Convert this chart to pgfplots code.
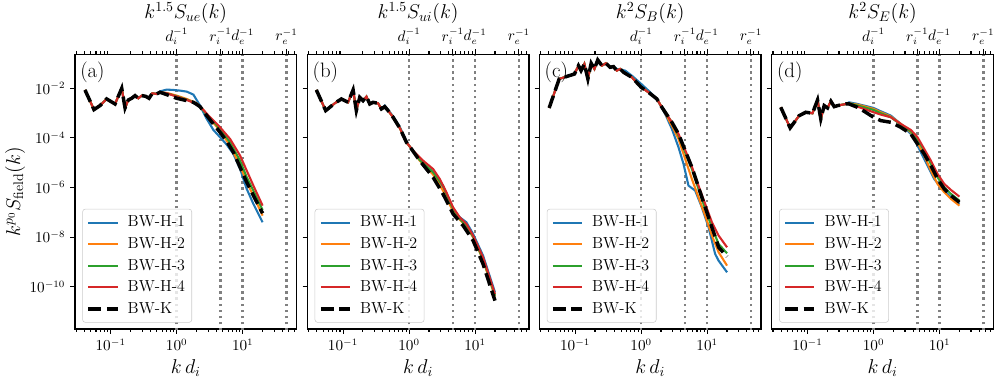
\documentclass[border=0pt]{standalone}
\usepackage{pgfplots}
\pgfplotsset{compat=1.18}
\definecolor{c0}{HTML}{1F77B4}
\definecolor{c1}{HTML}{FF7F0E}
\definecolor{c2}{HTML}{2CA02C}
\definecolor{c3}{HTML}{D62728}
\definecolor{lgray}{HTML}{CCCCCC}
\definecolor{vgray}{HTML}{808080}
\tikzset{
  sA/.style={c0, line width=1.5pt},
  sB/.style={c1, line width=1.5pt},
  sC/.style={c2, line width=1.5pt},
  sD/.style={c3, line width=1.5pt},
  sK/.style={black, line width=2.5pt, dash pattern=on 9.25pt off 4pt},
  vl/.style={vgray, line width=1.8pt, dash pattern=on 1.8pt off 2.6pt},
}
\pgfplotsset{every axis/.append style={
    scale only axis, width=159.5pt, height=197.8pt, anchor=south west,
    xmode=log, ymode=log, xmin=0.0288, xmax=65.3, ymin=1.97e-12, ymax=0.235,
    axis line style={line width=0.9pt},
    tick align=outside,
    major tick length=3.5pt, minor tick length=2pt,
    every tick/.style={black, line width=0.8pt},
    minor xtick={0.03,0.04,0.05,0.06,0.07,0.08,0.09,0.2,0.3,0.4,0.5,0.6,0.7,0.8,0.9,2,3,4,5,6,7,8,9,20,30,40,50,60},
    yminorticks=false,
    ticklabel style={font=\fontsize{10.5}{12}\selectfont},
    legend style={at={(0.033,0.023)}, anchor=south west, draw=lgray, rounded corners=2pt,
      fill=white, fill opacity=0.8, text opacity=1, draw opacity=1,
      font=\fontsize{11.5}{13}\selectfont, row sep=2.2pt, inner sep=3pt, cells={anchor=west}},
}}
\newcommand{\vlines}{%
  \addplot[vl, forget plot] coordinates {(1,1e-13) (1,1)};
  \addplot[vl, forget plot] coordinates {(4.6,1e-13) (4.6,1)};
  \addplot[vl, forget plot] coordinates {(10,1e-13) (10,1)};
  \addplot[vl, forget plot] coordinates {(46,1e-13) (46,1)};
}
\newcommand{\leg}{\legend{BW-H-1,BW-H-2,BW-H-3,BW-H-4,BW-K}}
\newcommand{\plab}[1]{\node[anchor=north west, inner sep=0pt, font=\fontsize{15}{17}\selectfont] at (rel axis cs:0.0225,0.975) {#1};}
\begin{document}
\begin{tikzpicture}
\path[use as bounding box] (0,0) rectangle (717.12pt,272.88pt);
% ---------------- (a)
\begin{axis}[at={(54pt,36pt)},
    xtick={0.1,1,10}, xtick pos=left, ytick pos=left,
    ytick={1e-10,1e-8,1e-6,1e-4,1e-2},
    xlabel={$k\,d_i$},
    xlabel style={font=\fontsize{14}{16}\selectfont},
    legend image code/.code={\draw[#1] (0pt,0pt) -- (21pt,0pt); \path (25pt,0pt);},
    ylabel={$k^{p_0}S_{\mathrm{field}}(k)$}, ylabel shift=-3.6pt,
    ylabel style={font=\fontsize{14}{16}\selectfont}]
\vlines
\addplot[sA] coordinates {(0.0408,8.57e-3) (0.0558,1.38e-3) (0.0689,2.00e-3) (0.0869,3.72e-3) (0.1164,2.33e-3) (0.147,1.0e-2) (0.165,1.61e-3) (0.185,3.39e-3) (0.208,3.95e-3) (0.234,5.06e-3) (0.262,3.95e-3) (0.295,5.06e-3) (0.339,4.75e-3) (0.381,3.95e-3) (0.428,6.28e-3) (0.498,5.91e-3) (0.559,7.5e-3) (0.705,8.84e-3) (0.889,8.57e-3) (1.124,8.05e-3) (1.418,7.34e-3) (1.79,5.56e-3) (2.26,2.00e-3) (2.85,5.80e-4) (3.59,2.09e-4) (4.54,1.06e-4) (5.72,5.35e-5) (7.22,2.25e-5) (9.12,5.58e-6) (11.5,8.73e-7) (14.5,2.17e-7) (20,3.95e-8)};
\addplot[sB] coordinates {(0.0408,8.57e-3) (0.0558,1.38e-3) (0.0689,2.00e-3) (0.0869,3.72e-3) (0.1164,2.33e-3) (0.147,1.0e-2) (0.165,1.61e-3) (0.185,3.39e-3) (0.208,3.95e-3) (0.234,5.06e-3) (0.262,3.95e-3) (0.295,5.06e-3) (0.339,4.75e-3) (0.381,3.95e-3) (0.428,6.28e-3) (0.498,5.91e-3) (0.559,6.90e-3) (0.705,6.49e-3) (1.0,5.06e-3) (1.418,3.72e-3) (2.01,2.48e-3) (2.535,1.34e-3) (3.20,5.80e-4) (4.54,1.96e-4) (6.43,4.88e-5) (9.12,7.62e-6) (11.5,1.62e-6) (14.5,4.70e-7) (20,7.35e-8)};
\addplot[sC] coordinates {(0.0408,8.57e-3) (0.0558,1.38e-3) (0.0689,2.00e-3) (0.0869,3.72e-3) (0.1164,2.33e-3) (0.147,1.0e-2) (0.165,1.61e-3) (0.185,3.39e-3) (0.208,3.95e-3) (0.234,5.06e-3) (0.262,3.95e-3) (0.295,5.06e-3) (0.339,4.75e-3) (0.381,3.95e-3) (0.428,6.28e-3) (0.498,5.91e-3) (0.559,6.90e-3) (0.705,6.28e-3) (1.0,4.75e-3) (1.418,3.49e-3) (2.01,2.33e-3) (2.535,1.26e-3) (3.20,6.37e-4) (4.54,2.29e-4) (6.43,6.65e-5) (9.12,1.21e-5) (11.5,2.58e-6) (14.5,7.48e-7) (20,1.24e-7)};
\addplot[sD] coordinates {(0.0408,8.57e-3) (0.0558,1.38e-3) (0.0689,2.00e-3) (0.0869,3.72e-3) (0.1164,2.33e-3) (0.147,1.0e-2) (0.165,1.61e-3) (0.185,3.39e-3) (0.208,3.95e-3) (0.234,5.06e-3) (0.262,3.95e-3) (0.295,5.06e-3) (0.339,4.75e-3) (0.381,3.95e-3) (0.428,6.28e-3) (0.498,5.91e-3) (0.559,6.90e-3) (0.705,6.28e-3) (1.0,4.61e-3) (1.418,3.39e-3) (2.01,2.33e-3) (2.535,1.34e-3) (3.20,6.78e-4) (4.54,2.67e-4) (6.43,9.06e-5) (9.12,1.93e-5) (11.5,4.79e-6) (14.5,1.19e-6) (20,1.86e-7)};
\addplot[sK] coordinates {(0.0408,8.57e-3) (0.0558,1.38e-3) (0.0689,2.00e-3) (0.0869,3.72e-3) (0.1164,2.33e-3) (0.147,1.0e-2) (0.165,1.61e-3) (0.185,3.39e-3) (0.208,3.95e-3) (0.234,5.06e-3) (0.262,3.95e-3) (0.295,5.06e-3) (0.339,4.75e-3) (0.381,3.95e-3) (0.428,6.28e-3) (0.498,5.91e-3) (0.559,6.90e-3) (0.705,5.56e-3) (1.0,3.95e-3) (1.418,3.18e-3) (1.79,2.72e-3) (2.26,1.82e-3) (2.85,7.91e-4) (3.59,3.65e-4) (4.54,1.68e-4) (5.72,7.30e-5) (7.22,2.63e-5) (9.12,6.53e-6) (11.5,1.62e-6) (14.5,4.70e-7) (20,9.12e-8)};
\leg
\plab{(a)}
\end{axis}
\begin{axis}[at={(54pt,36pt)}, axis x line*=top, axis y line=none,
    xtick={1,4.6,10,46}, xticklabels={$d_i^{-1}$,$r_i^{-1}$,$d_e^{-1}$,$r_e^{-1}$},
    title={$k^{1.5}S_{ue}(k)$},
    title style={font=\fontsize{14}{16}\selectfont, at={(0.5,1)}, anchor=base, yshift=19.5pt}]
\end{axis}
% ---------------- (b)
\begin{axis}[at={(221.3pt,36pt)},
    xtick={0.1,1,10}, xtick pos=left, ytick pos=left,
    ytick={1e-10,1e-8,1e-6,1e-4,1e-2}, yticklabels={},
    xlabel={$k\,d_i$},
    xlabel style={font=\fontsize{14}{16}\selectfont},
    legend image code/.code={\draw[#1] (0pt,0pt) -- (21pt,0pt); \path (25pt,0pt);}]
\vlines
\addplot[sA] coordinates {(0.0394,8.57e-3) (0.0546,1.26e-3) (0.0748,2.48e-3) (0.0944,3.72e-3) (0.119,2.72e-3) (0.142,8.57e-3) (0.159,1.26e-3) (0.179,4.33e-3) (0.201,3.18e-3) (0.226,4.61e-3) (0.254,2.33e-3) (0.285,2.72e-3) (0.339,2.48e-3) (0.381,1.47e-3) (0.428,2.0e-3) (0.481,1.35e-3) (0.573,7.4e-4) (0.722,2.8e-4) (0.912,7.2e-5) (1.0,4.88e-5) (1.45,1.29e-5) (2.31,4.10e-6) (3.27,1.02e-6) (4.38,1.59e-7) (5.86,6.28e-8) (7.39,3.95e-8) (9.33,1.34e-8) (13.2,1.79e-9) (20,5.94e-11)};
\addplot[sB] coordinates {(0.0394,8.57e-3) (0.0546,1.26e-3) (0.0748,2.48e-3) (0.0944,3.72e-3) (0.119,2.72e-3) (0.142,8.57e-3) (0.159,1.26e-3) (0.179,4.33e-3) (0.201,3.18e-3) (0.226,4.61e-3) (0.254,2.33e-3) (0.285,2.72e-3) (0.339,2.48e-3) (0.381,1.47e-3) (0.428,1.82e-3) (0.481,1.26e-3) (0.573,6.78e-4) (0.722,2.52e-4) (0.912,6.65e-5) (1.0,4.88e-5) (1.45,1.21e-5) (2.31,3.30e-6) (3.27,7.48e-7) (4.38,1.50e-7) (5.86,5.06e-8) (7.39,2.64e-8) (9.33,9.82e-9) (13.2,1.20e-9) (20,3.98e-11)};
\addplot[sC] coordinates {(0.0394,8.57e-3) (0.0546,1.26e-3) (0.0748,2.48e-3) (0.0944,3.72e-3) (0.119,2.72e-3) (0.142,8.57e-3) (0.159,1.26e-3) (0.179,4.33e-3) (0.201,3.18e-3) (0.226,4.61e-3) (0.254,2.33e-3) (0.285,2.72e-3) (0.339,2.48e-3) (0.381,1.47e-3) (0.428,1.82e-3) (0.481,1.26e-3) (0.573,6.78e-4) (0.722,2.52e-4) (0.912,6.65e-5) (1.0,4.88e-5) (1.45,1.29e-5) (2.31,4.10e-6) (3.27,1.19e-6) (4.38,1.86e-7) (5.86,5.38e-8) (7.39,2.90e-8) (9.33,1.04e-8) (13.2,1.31e-9) (20,4.36e-11)};
\addplot[sD] coordinates {(0.0394,8.57e-3) (0.0546,1.26e-3) (0.0748,2.48e-3) (0.0944,3.72e-3) (0.119,2.72e-3) (0.142,8.57e-3) (0.159,1.26e-3) (0.179,4.33e-3) (0.201,3.18e-3) (0.226,4.61e-3) (0.254,2.33e-3) (0.285,2.72e-3) (0.339,2.48e-3) (0.381,1.47e-3) (0.428,1.82e-3) (0.481,1.26e-3) (0.573,6.78e-4) (0.722,2.52e-4) (0.912,6.65e-5) (1.0,4.88e-5) (1.15,3.07e-5) (1.63,1.21e-5) (2.31,5.58e-6) (2.92,2.21e-6) (3.68,6.40e-7) (4.64,1.59e-7) (5.86,6.28e-8) (7.39,3.39e-8) (9.33,1.15e-8) (13.2,1.53e-9) (20,5.09e-11)};
\addplot[sK] coordinates {(0.0394,8.57e-3) (0.0546,1.26e-3) (0.0748,2.48e-3) (0.0944,3.72e-3) (0.119,2.72e-3) (0.142,8.57e-3) (0.159,1.26e-3) (0.179,4.33e-3) (0.201,3.18e-3) (0.226,4.61e-3) (0.254,2.33e-3) (0.285,2.72e-3) (0.339,2.48e-3) (0.381,1.47e-3) (0.428,1.82e-3) (0.481,1.26e-3) (0.573,6.78e-4) (0.722,2.52e-4) (0.912,6.65e-5) (1.0,4.88e-5) (1.45,1.21e-5) (2.31,2.58e-6) (3.27,5.48e-7) (4.64,8.57e-8) (6.58,2.90e-8) (9.33,7.21e-9) (13.2,8.26e-10) (20,2.74e-11)};
\leg
\plab{(b)}
\end{axis}
\begin{axis}[at={(221.3pt,36pt)}, axis x line*=top, axis y line=none,
    xtick={1,4.6,10,46}, xticklabels={$d_i^{-1}$,$r_i^{-1}$,$d_e^{-1}$,$r_e^{-1}$},
    title={$k^{1.5}S_{ui}(k)$},
    title style={font=\fontsize{14}{16}\selectfont, at={(0.5,1)}, anchor=base, yshift=19.5pt}]
\end{axis}
% ---------------- (c)
\begin{axis}[at={(388.4pt,36pt)},
    xtick={0.1,1,10}, xtick pos=left, ytick pos=left,
    ytick={1e-10,1e-8,1e-6,1e-4,1e-2}, yticklabels={},
    xlabel={$k\,d_i$},
    xlabel style={font=\fontsize{14}{16}\selectfont},
    legend image code/.code={\draw[#1] (0pt,0pt) -- (21pt,0pt); \path (25pt,0pt);}]
\vlines
\addplot[sA] coordinates {(0.0404,1.61e-3) (0.0573,2.38e-2) (0.0977,3.78e-2) (0.1124,8.20e-2) (0.123,5.15e-2) (0.138,9.57e-2) (0.156,2.38e-2) (0.175,0.102) (0.196,6.03e-2) (0.220,0.139) (0.254,8.20e-2) (0.292,0.102) (0.339,7.03e-2) (0.381,7.48e-2) (0.428,6.03e-2) (0.573,5.15e-2) (0.722,3.24e-2) (1.0,1.50e-2) (1.29,8.05e-3) (1.73,3.72e-3) (2.31,9.23e-4) (2.92,2.29e-4) (3.68,4.18e-5) (4.38,8.89e-6) (5.21,1.19e-6) (6.58,7.48e-7) (8.30,1.59e-7) (10.5,2.48e-8) (13.2,2.09e-9) (14.9,1.12e-9) (20,3.81e-10)};
\addplot[sB] coordinates {(0.0404,1.61e-3) (0.0573,2.38e-2) (0.0977,3.78e-2) (0.1124,8.20e-2) (0.123,5.15e-2) (0.138,9.57e-2) (0.156,2.38e-2) (0.175,0.102) (0.196,6.03e-2) (0.220,0.139) (0.254,8.20e-2) (0.292,0.102) (0.339,7.03e-2) (0.381,7.48e-2) (0.428,5.15e-2) (0.481,6.03e-2) (0.540,4.42e-2) (0.722,2.78e-2) (1.0,1.10e-2) (1.29,6.90e-3) (1.73,3.72e-3) (2.06,1.71e-3) (2.31,9.82e-4) (2.92,3.13e-4) (3.68,9.06e-5) (4.64,1.42e-5) (5.86,2.21e-6) (7.39,4.03e-7) (9.33,7.35e-8) (11.8,1.15e-8) (14.9,2.44e-9) (20,7.06e-10)};
\addplot[sC] coordinates {(0.0404,1.61e-3) (0.0573,2.38e-2) (0.0977,3.78e-2) (0.1124,8.20e-2) (0.123,5.15e-2) (0.138,9.57e-2) (0.156,2.38e-2) (0.175,0.102) (0.196,6.03e-2) (0.220,0.139) (0.254,8.20e-2) (0.292,0.102) (0.339,7.03e-2) (0.381,7.48e-2) (0.428,5.15e-2) (0.481,6.03e-2) (0.540,4.42e-2) (0.722,2.78e-2) (1.0,1.10e-2) (1.29,6.90e-3) (1.73,3.72e-3) (2.06,1.71e-3) (2.31,1.08e-3) (2.92,4.26e-4) (3.68,1.23e-4) (4.64,2.63e-5) (5.86,5.58e-6) (7.39,8.73e-7) (9.33,1.36e-7) (11.8,2.48e-8) (14.9,5.28e-9) (20,2.22e-9)};
\addplot[sD] coordinates {(0.0404,1.61e-3) (0.0573,2.38e-2) (0.0977,3.78e-2) (0.1124,8.20e-2) (0.123,5.15e-2) (0.138,9.57e-2) (0.156,2.38e-2) (0.175,0.102) (0.196,6.03e-2) (0.220,0.139) (0.254,8.20e-2) (0.292,0.102) (0.339,7.03e-2) (0.381,7.48e-2) (0.428,5.15e-2) (0.481,6.03e-2) (0.540,4.42e-2) (0.722,2.78e-2) (1.0,1.10e-2) (1.29,6.90e-3) (1.73,3.72e-3) (2.06,1.71e-3) (2.31,1.08e-3) (2.92,4.26e-4) (3.68,1.44e-4) (4.64,3.26e-5) (5.86,6.94e-6) (7.39,1.19e-6) (9.33,2.17e-7) (11.8,3.95e-8) (14.9,1.15e-8) (20,3.88e-9)};
\addplot[sK] coordinates {(0.0404,1.61e-3) (0.0573,2.38e-2) (0.0977,3.78e-2) (0.1124,8.20e-2) (0.123,5.15e-2) (0.138,9.57e-2) (0.156,2.38e-2) (0.175,0.102) (0.196,6.03e-2) (0.220,0.139) (0.254,8.20e-2) (0.292,0.102) (0.339,7.03e-2) (0.381,7.48e-2) (0.428,5.15e-2) (0.481,6.03e-2) (0.540,4.42e-2) (0.722,2.78e-2) (1.0,1.10e-2) (1.29,6.90e-3) (1.73,3.72e-3) (2.06,1.71e-3) (2.31,1.08e-3) (2.92,4.26e-4) (3.68,1.44e-4) (4.64,3.07e-5) (5.86,6.53e-6) (7.39,1.02e-6) (9.33,1.59e-7) (11.8,2.48e-8) (14.9,3.88e-9) (20,1.63e-9)};
\leg
\plab{(c)}
\end{axis}
\begin{axis}[at={(388.4pt,36pt)}, axis x line*=top, axis y line=none,
    xtick={1,4.6,10,46}, xticklabels={$d_i^{-1}$,$r_i^{-1}$,$d_e^{-1}$,$r_e^{-1}$},
    title={$k^{2}S_{B}(k)$},
    title style={font=\fontsize{14}{16}\selectfont, at={(0.5,1)}, anchor=base, yshift=19.5pt}]
\end{axis}
% ---------------- (d)
\begin{axis}[at={(555.7pt,36pt)},
    xtick={0.1,1,10}, xtick pos=left, ytick pos=left,
    ytick={1e-10,1e-8,1e-6,1e-4,1e-2}, yticklabels={},
    xlabel={$k\,d_i$},
    xlabel style={font=\fontsize{14}{16}\selectfont},
    legend image code/.code={\draw[#1] (0pt,0pt) -- (21pt,0pt); \path (25pt,0pt);}]
\vlines
\addplot[sA] coordinates {(0.0394,1.71e-3) (0.0546,2.52e-4) (0.0748,7.91e-4) (0.0944,1.08e-3) (0.119,9.82e-4) (0.142,3.39e-3) (0.159,5.80e-4) (0.179,2.00e-3) (0.201,1.61e-3) (0.226,2.99e-3) (0.254,1.82e-3) (0.285,2.00e-3) (0.339,2.19e-3) (0.381,2.33e-3) (0.428,2.72e-3) (0.573,2.33e-3) (0.722,2.00e-3) (1.0,1.61e-3) (1.29,1.18e-3) (1.83,7.91e-4) (2.59,3.65e-4) (3.68,1.44e-4) (4.38,6.65e-5) (5.21,2.63e-5) (6.58,7.62e-6) (8.30,2.21e-6) (10.5,1.02e-6) (14.9,4.03e-7) (20,2.17e-7)};
\addplot[sB] coordinates {(0.0394,1.71e-3) (0.0546,2.52e-4) (0.0748,7.91e-4) (0.0944,1.08e-3) (0.119,9.82e-4) (0.142,3.39e-3) (0.159,5.80e-4) (0.179,2.00e-3) (0.201,1.61e-3) (0.226,2.99e-3) (0.254,1.82e-3) (0.285,2.00e-3) (0.339,2.19e-3) (0.381,2.33e-3) (0.428,2.48e-3) (0.573,2.19e-3) (0.722,1.88e-3) (1.0,1.47e-3) (1.29,1.08e-3) (1.83,7.21e-4) (2.59,3.65e-4) (3.68,1.68e-4) (4.64,6.65e-5) (5.86,1.93e-5) (7.39,4.79e-6) (9.33,1.39e-6) (11.8,6.40e-7) (14.9,3.45e-7) (20,1.86e-7)};
\addplot[sC] coordinates {(0.0394,1.71e-3) (0.0546,2.52e-4) (0.0748,7.91e-4) (0.0944,1.08e-3) (0.119,9.82e-4) (0.142,3.39e-3) (0.159,5.80e-4) (0.179,2.00e-3) (0.201,1.61e-3) (0.226,2.99e-3) (0.254,1.82e-3) (0.285,2.00e-3) (0.339,2.19e-3) (0.381,2.33e-3) (0.428,2.48e-3) (0.722,1.71e-3) (1.0,1.34e-3) (1.29,9.82e-4) (1.83,6.78e-4) (2.59,3.43e-4) (3.68,1.85e-4) (4.64,8.26e-5) (5.86,3.07e-5) (7.39,8.89e-6) (9.33,2.58e-6) (11.8,1.02e-6) (14.9,5.48e-7) (20,2.95e-7)};
\addplot[sD] coordinates {(0.0394,1.71e-3) (0.0546,2.52e-4) (0.0748,7.91e-4) (0.0944,1.08e-3) (0.119,9.82e-4) (0.142,3.39e-3) (0.159,5.80e-4) (0.179,2.00e-3) (0.201,1.61e-3) (0.226,2.99e-3) (0.254,1.82e-3) (0.285,2.00e-3) (0.339,2.19e-3) (0.381,2.33e-3) (0.428,2.33e-3) (0.722,1.47e-3) (1.0,1.08e-3) (1.29,8.67e-4) (1.83,6.78e-4) (2.59,3.65e-4) (3.68,2.09e-4) (4.64,1.06e-4) (5.86,3.58e-5) (7.39,1.21e-5) (9.33,3.52e-6) (11.8,1.39e-6) (14.9,7.94e-7) (20,4.28e-7)};
\addplot[sK] coordinates {(0.0394,1.71e-3) (0.0546,2.52e-4) (0.0748,7.91e-4) (0.0944,1.08e-3) (0.119,9.82e-4) (0.142,3.39e-3) (0.159,5.80e-4) (0.179,2.00e-3) (0.201,1.61e-3) (0.226,2.99e-3) (0.254,1.82e-3) (0.285,2.00e-3) (0.339,2.19e-3) (0.381,2.33e-3) (0.428,2.33e-3) (0.573,1.71e-3) (0.722,1.18e-3) (1.0,6.78e-4) (1.29,4.97e-4) (1.83,4.26e-4) (2.59,2.67e-4) (3.68,1.44e-4) (4.64,5.69e-5) (5.86,2.25e-5) (7.39,7.62e-6) (9.33,2.21e-6) (11.8,8.73e-7) (14.9,4.70e-7) (20,2.53e-7)};
\leg
\plab{(d)}
\end{axis}
\begin{axis}[at={(555.7pt,36pt)}, axis x line*=top, axis y line=none,
    xtick={1,4.6,10,46}, xticklabels={$d_i^{-1}$,$r_i^{-1}$,$d_e^{-1}$,$r_e^{-1}$},
    title={$k^{2}S_{E}(k)$},
    title style={font=\fontsize{14}{16}\selectfont, at={(0.5,1)}, anchor=base, yshift=19.5pt}]
\end{axis}
\end{tikzpicture}
\end{document}
